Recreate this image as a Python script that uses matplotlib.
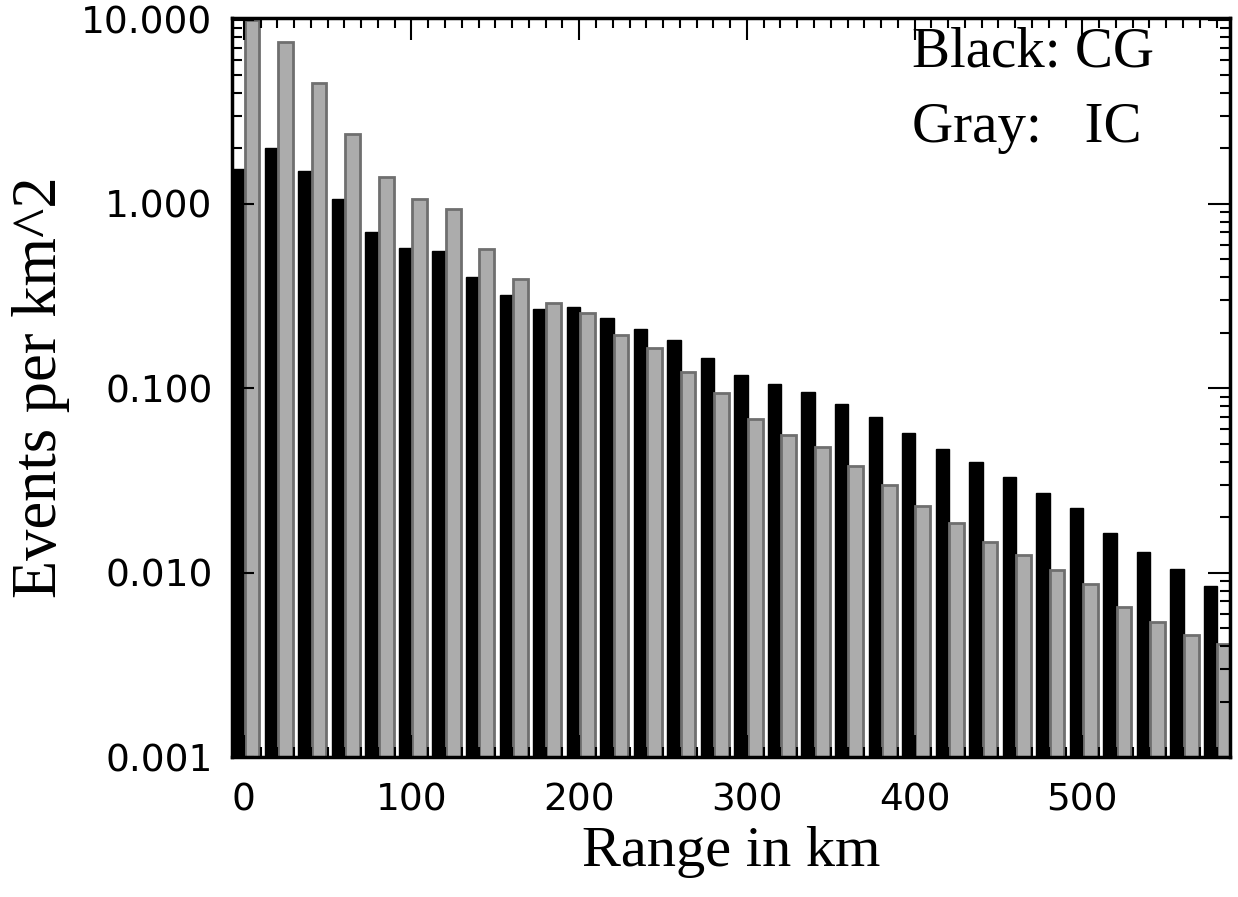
import numpy as np
import matplotlib
matplotlib.use("Agg")
import matplotlib.pyplot as plt
from matplotlib.ticker import LogLocator, FixedLocator, MultipleLocator, FormatStrFormatter, NullFormatter


# bin start of each range bin (km)
RANGE_KM = [0, 20, 40, 60, 80, 100, 120, 140, 160, 180,
            200, 220, 240, 260, 280, 300, 320, 340, 360, 380,
            400, 420, 440, 460, 480, 500, 520, 540, 560, 580]

# events per km^2
CG = [1.55, 2.01, 1.51, 1.06, 0.704, 0.576, 0.556, 0.40, 0.32, 0.269,
      0.275, 0.24, 0.209, 0.182, 0.146, 0.118, 0.106, 0.095, 0.082, 0.070,
      0.057, 0.047, 0.040, 0.033, 0.027, 0.0223, 0.0165, 0.013, 0.0105, 0.0085]
IC = [9.9, 7.6, 4.55, 2.40, 1.40, 1.06, 0.94, 0.569, 0.39, 0.29,
      0.256, 0.194, 0.165, 0.122, 0.094, 0.068, 0.056, 0.048, 0.038, 0.030,
      0.023, 0.0185, 0.0146, 0.0124, 0.0103, 0.0087, 0.0065, 0.0054, 0.0046, 0.0041]

Y_TICKS = [0.001, 0.01, 0.1, 1.0, 10.0]
X_TICKS = [0, 100, 200, 300, 400, 500]


def main():
    fig = plt.figure(figsize=(12.38, 8.97), dpi=100)
    ax = fig.add_axes([0.1874, 0.156, 0.8061, 0.824])

    x = np.array(RANGE_KM, dtype=float)
    base = 1e-4
    ax.bar(x - 7.5, np.array(CG) - base, width=8.0, bottom=base, align="edge",
           color="black", edgecolor="black", linewidth=1.0)
    ax.bar(x + 0.5, np.array(IC) - base, width=8.8, bottom=base, align="edge",
           color="#acacac", edgecolor="#6f6f6f", linewidth=2.0)

    ax.set_yscale("log")
    ax.set_ylim(0.001, 10.2)
    ax.set_xlim(-7, 588)

    ax.yaxis.set_major_locator(FixedLocator(Y_TICKS))
    ax.yaxis.set_major_formatter(FormatStrFormatter("%.3f"))
    ax.yaxis.set_minor_locator(LogLocator(base=10, subs=np.arange(2, 10)))
    ax.yaxis.set_minor_formatter(NullFormatter())
    ax.xaxis.set_major_locator(FixedLocator(X_TICKS))
    ax.xaxis.set_minor_locator(MultipleLocator(10))

    ax.tick_params(which="both", direction="in", top=True, right=True,
                   width=1.5, labelsize=27)
    ax.tick_params(which="major", length=16)
    ax.tick_params(which="minor", length=7)
    ax.tick_params(axis="x", which="major", pad=18)
    ax.tick_params(axis="y", which="major", pad=14)

    for s in ax.spines.values():
        s.set_linewidth(2.5)

    serif = ["Liberation Serif", "DejaVu Serif"]
    ax.set_xlabel("Range in km", family=serif, fontsize=42, labelpad=6)
    ax.set_ylabel("Events per km^2", family=serif, fontsize=45, labelpad=8)

    ax.text(0.681, 0.953, "Black: CG", transform=ax.transAxes, family=serif,
            fontsize=41, va="center", ha="left")
    ax.text(0.681, 0.851, "Gray:   IC", transform=ax.transAxes, family=serif,
            fontsize=41, va="center", ha="left")

    fig.savefig("out.png", dpi=100)


if __name__ == "__main__":
    main()
